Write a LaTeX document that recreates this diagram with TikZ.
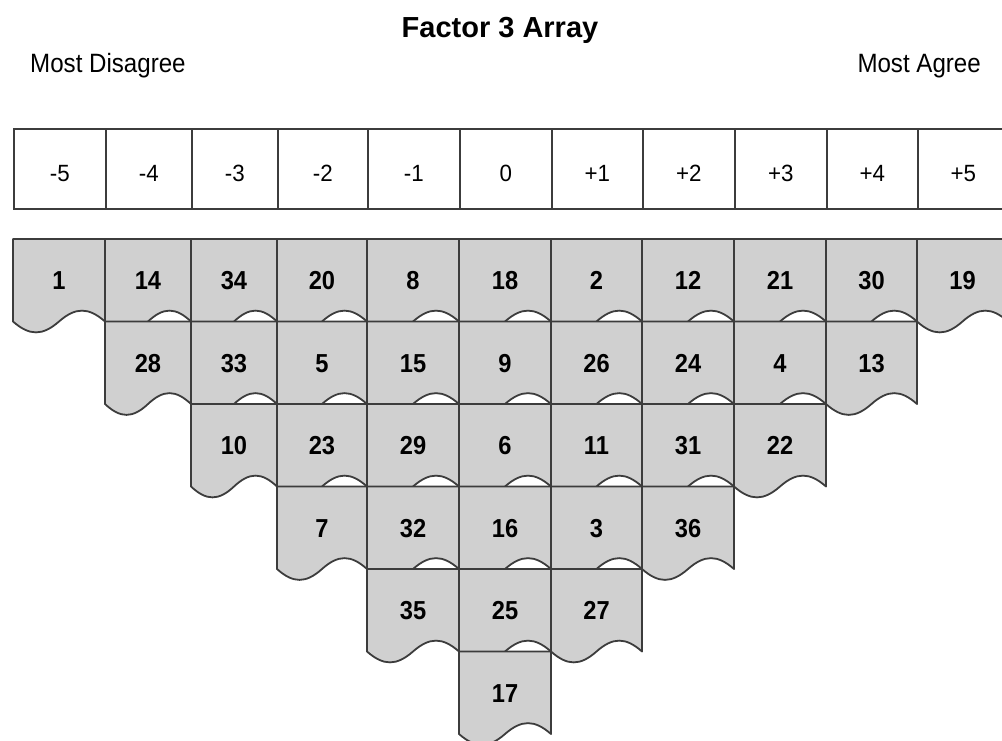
\documentclass[tikz,border=0pt]{standalone}
\usepackage{fontspec}
\setmainfont{Liberation Sans}
\newfontfamily\narrowfont{Liberation Sans}[FakeStretch=0.91]
\newfontfamily\hdrfont{Liberation Sans}[FakeStretch=0.95]
\definecolor{cardgray}{HTML}{D0D0D0}
\definecolor{linegray}{HTML}{3C3C3C}
\begin{document}
\begin{tikzpicture}[x=1pt,y=-1pt,
  hcell/.style={draw=linegray, line width=1.8pt, minimum height=80pt, inner sep=0pt,
    text height=24.5pt, text depth=0pt, font=\hdrfont\fontsize{23.5}{25}\selectfont, anchor=north west},
  cardtxt/.style={font=\narrowfont\bfseries\fontsize{26}{28}\selectfont, anchor=base, inner sep=0pt},
  cardshape/.style={fill=cardgray, draw=linegray, line width=1.8pt, line join=round},
  plaintxt/.style={inner sep=0pt, font=\narrowfont\fontsize{26.5}{28}\selectfont}]
\useasboundingbox (0,0) rectangle (1002,740);
\def\xlist{{13,105,191,277,367,459,551,642,734,826,917,1008}}
% title and side labels
\node[inner sep=0pt, anchor=base, font=\bfseries\fontsize{29}{31}\selectfont] (title) at (500,37) {Factor 3 Array};
\node[plaintxt, anchor=base west] (disagree) at (30,72) {Most Disagree};
\node[plaintxt, anchor=base east] (agree) at (981,72) {Most Agree};
% header row
\foreach \lab [count=\i from 0] in {-5,-4,-3,-2,-1,0,+1,+2,+3,+4,+5} {
  \pgfmathsetmacro\xa{\xlist[\i]}
  \pgfmathsetmacro\xb{\xlist[\i+1]}
  \pgfmathsetmacro\w{\xb-\xa}
  \node[hcell, minimum width=\w pt] (h\i) at (\xa,128) {\lab};
}
% cards
\foreach \c/\r/\l in {0/0/1,1/0/14,2/0/34,3/0/20,4/0/8,5/0/18,6/0/2,7/0/12,8/0/21,9/0/30,10/0/19,
  1/1/28,2/1/33,3/1/5,4/1/15,5/1/9,6/1/26,7/1/24,8/1/4,9/1/13,
  2/2/10,3/2/23,4/2/29,5/2/6,6/2/11,7/2/31,8/2/22,
  3/3/7,4/3/32,5/3/16,6/3/3,7/3/36,
  4/4/35,5/4/25,6/4/27,
  5/5/17} {
  \pgfmathsetmacro\xa{\xlist[\c]}
  \pgfmathsetmacro\xb{\xlist[\c+1]}
  \pgfmathsetmacro\ya{239+82.5*\r}
  \pgfmathsetmacro\yb{\ya+82.5}
  \pgfmathsetmacro\w{\xb-\xa}
  \draw[cardshape] (\xa,\ya) -- (\xb,\ya) -- (\xb,\yb)
    .. controls ({\xb-0.18*\w},{\yb-14.5}) and ({\xb-0.32*\w},{\yb-14.5}) .. ({\xa+0.5*\w},\yb)
    .. controls ({\xa+0.32*\w},{\yb+14.5}) and ({\xa+0.18*\w},{\yb+14.5}) .. (\xa,\yb) -- cycle;
  \node[cardtxt] (card\l) at ({(\xa+\xb)/2},{\ya+50.5}) {\l};
}
\end{tikzpicture}
\end{document}
